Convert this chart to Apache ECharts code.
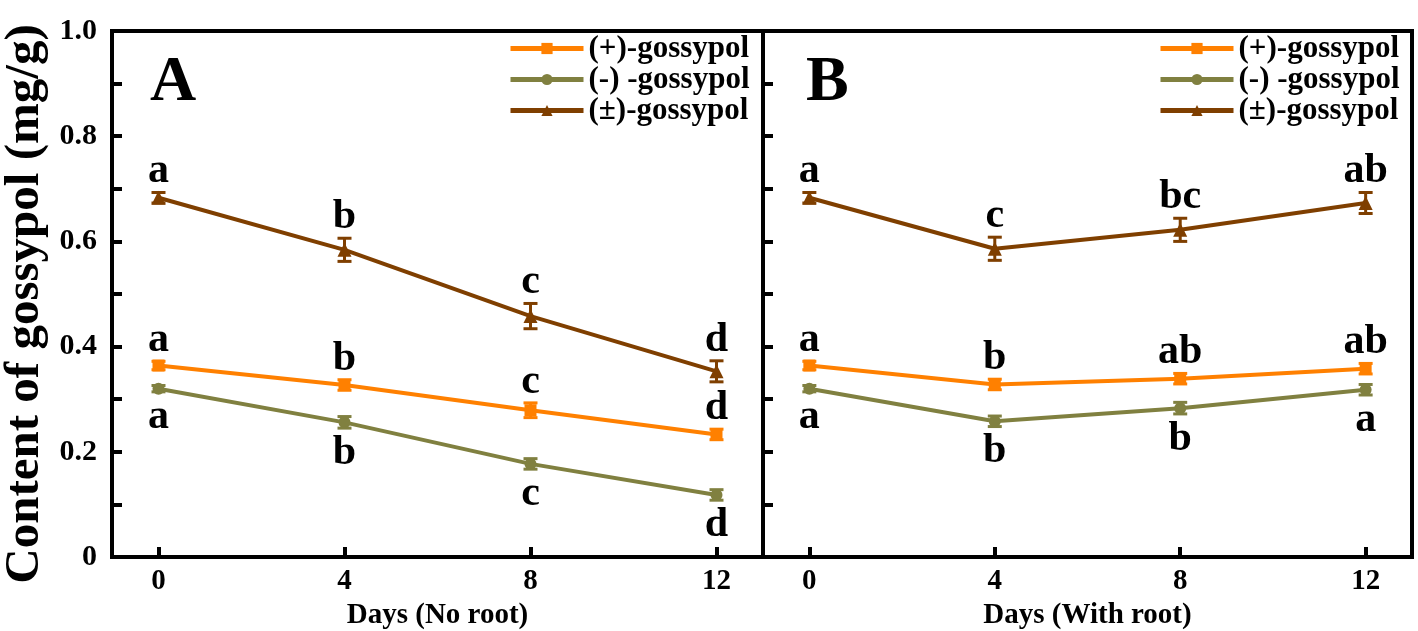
<!DOCTYPE html>
<html>
<head>
<meta charset="utf-8">
<script src="https://cdn.jsdelivr.net/npm/echarts@6/dist/echarts.min.js"></script>
<style>
html,body{margin:0;padding:0;background:#fff;}
#chart{width:1418px;height:631px;}
</style>
</head>
<body>
<div id="chart"></div>
<script>
// ---- data ----
const days = [0, 4, 8, 12];
const seriesNames = ['(+)-gossypol', '(-) -gossypol', '(±)-gossypol'];

// Panel A (No root)
const plusA = [0.364, 0.327, 0.279, 0.233];
const plusErrA = [0.008, 0.010, 0.014, 0.010];
const minusA = [0.320, 0.256, 0.177, 0.118];
const minusErrA = [0.006, 0.011, 0.010, 0.010];
const racA = [0.683, 0.584, 0.458, 0.353];
const racErrA = [0.010, 0.022, 0.024, 0.020];
const plusLetA = ['a', 'b', 'c', 'd'];
const minusLetA = ['a', 'b', 'c', 'd'];
const racLetA = ['a', 'b', 'c', 'd'];

// Panel B (With root)
const plusB = [0.364, 0.328, 0.339, 0.358];
const plusErrB = [0.008, 0.010, 0.010, 0.010];
const minusB = [0.320, 0.258, 0.283, 0.318];
const minusErrB = [0.006, 0.010, 0.011, 0.010];
const racB = [0.683, 0.586, 0.622, 0.673];
const racErrB = [0.010, 0.022, 0.022, 0.020];
const plusLetB = ['a', 'b', 'ab', 'ab'];
const minusLetB = ['a', 'b', 'b', 'a'];
const racLetB = ['a', 'c', 'bc', 'ab'];

const yTicks = [0, 0.2, 0.4, 0.6, 0.8, 1.0];
const xTitles = ['Days (No root)', 'Days (With root)'];
const yTitle = 'Content of gossypol (mg/g)';
const panelLetters = ['A', 'B'];

// ---- styles ----
const FONT = '"Liberation Serif", "Times New Roman", serif';
const colors = ['#FF8000', '#808040', '#7F3F00'];
const symbols = ['rect', 'circle', 'triangle'];

function pairs(vals) { return days.map((d, i) => [d, vals[i]]); }

function lineSeries(idx, vals, gi) {
  return {
    type: 'line', name: seriesNames[idx], xAxisIndex: gi, yAxisIndex: gi,
    data: pairs(vals), symbol: symbols[idx], symbolSize: idx === 2 ? 14 : 12,
    color: colors[idx],
    lineStyle: { width: 4, color: colors[idx] },
    itemStyle: { color: colors[idx] },
    z: 3, animation: false
  };
}
function errSeries(idx, vals, errs, gi) {
  return {
    type: 'custom', name: 'err' + idx + '_' + gi, xAxisIndex: gi, yAxisIndex: gi,
    data: days.map((d, i) => [d, vals[i] - errs[i], vals[i] + errs[i]]),
    renderItem: function (params, api) {
      const lo = api.coord([api.value(0), api.value(1)]);
      const hi = api.coord([api.value(0), api.value(2)]);
      const hw = 7;
      const st = { stroke: colors[idx], lineWidth: 3 };
      return { type: 'group', children: [
        { type: 'line', shape: { x1: lo[0], y1: lo[1], x2: hi[0], y2: hi[1] }, style: st },
        { type: 'line', shape: { x1: lo[0] - hw, y1: lo[1], x2: lo[0] + hw, y2: lo[1] }, style: st },
        { type: 'line', shape: { x1: hi[0] - hw, y1: hi[1], x2: hi[0] + hw, y2: hi[1] }, style: st }
      ]};
    },
    z: 4, animation: false, silent: true
  };
}
function letterSeries(vals, errs, letters, gi, below) {
  return {
    type: 'scatter', name: 'lbl_' + gi + (below ? 'b' : 't') + letters.join(''),
    xAxisIndex: gi, yAxisIndex: gi, symbolSize: 0,
    itemStyle: { opacity: 1, color: 'rgba(0,0,0,0)' },
    data: days.map((d, i) => ({ value: [d, below ? vals[i] - errs[i] : vals[i] + errs[i]], lt: letters[i] })),
    label: {
      show: true, position: below ? 'bottom' : 'top', distance: below ? 4 : 0,
      formatter: p => p.data.lt, opacity: 1,
      fontFamily: FONT, fontWeight: 'bold', fontSize: 42, color: '#000'
    },
    z: 5, animation: false, silent: true
  };
}

const gridTop = 31, gridBottom = 74;
const grids = [
  { left: 112, right: 1418 - 763, top: gridTop, bottom: gridBottom, show: true, borderColor: '#000', borderWidth: 4, outerBoundsMode: 'none', containLabel: false },
  { left: 763, right: 6, top: gridTop, bottom: gridBottom, show: true, borderColor: '#000', borderWidth: 4, outerBoundsMode: 'none', containLabel: false }
];

function xAx(gi) {
  return {
    type: 'value', gridIndex: gi, min: -1, max: 13,
    name: xTitles[gi], nameLocation: 'middle', nameGap: 35,
    nameTextStyle: { fontFamily: FONT, fontWeight: 'bold', fontSize: 29, color: '#000' },
    axisLine: { show: true, onZero: false, lineStyle: { color: '#000', width: 4 } },
    axisTick: { show: true, inside: true, length: 10, lineStyle: { width: 4, color: '#000' }, customValues: days },
    axisLabel: { show: true, customValues: days, margin: 10, fontFamily: FONT, fontWeight: 'bold', fontSize: 29, color: '#000' },
    splitLine: { show: false }
  };
}
function yAx(gi) {
  return {
    type: 'value', gridIndex: gi, min: 0, max: 1, interval: 0.2,
    name: gi === 0 ? yTitle : '', nameLocation: 'middle', nameGap: 62,
    nameTextStyle: { fontFamily: FONT, fontWeight: 'bold', fontSize: 49, color: '#000', padding: [0, 20, 0, 0] },
    axisLine: { show: true, onZero: false, lineStyle: { color: '#000', width: 4 } },
    axisTick: { show: true, inside: true, length: 10, lineStyle: { width: 4, color: '#000' } },
    minorTick: { show: true, splitNumber: 2, length: 10, lineStyle: { width: 4, color: '#000' } },
    axisLabel: {
      show: gi === 0, margin: 15, fontFamily: FONT, fontWeight: 'bold', fontSize: 30, color: '#000',
      formatter: v => (v === 0 ? '0' : v.toFixed(1))
    },
    splitLine: { show: false }
  };
}

const series = [];
[[plusA, plusErrA, minusA, minusErrA, racA, racErrA, plusLetA, minusLetA, racLetA],
 [plusB, plusErrB, minusB, minusErrB, racB, racErrB, plusLetB, minusLetB, racLetB]].forEach((p, gi) => {
  series.push(lineSeries(0, p[0], gi), lineSeries(1, p[2], gi), lineSeries(2, p[4], gi));
  series.push(errSeries(0, p[0], p[1], gi), errSeries(1, p[2], p[3], gi), errSeries(2, p[4], p[5], gi));
  series.push(letterSeries(p[0], p[1], p[6], gi, false));
  series.push(letterSeries(p[2], p[3], p[7], gi, true));
  series.push(letterSeries(p[4], p[5], p[8], gi, false));
});

function legendAt(left) {
  return {
    data: seriesNames, orient: 'vertical', left: left, top: 28,
    itemWidth: 73, itemHeight: 14, itemGap: 0,
    lineStyle: { width: 5 },
    textStyle: { fontFamily: FONT, fontWeight: 'bold', fontSize: 31, color: '#000' },
    selectedMode: false
  };
}

const chart = echarts.init(document.getElementById('chart'), null, { renderer: 'canvas' });
chart.setOption({
  animation: false,
  backgroundColor: '#fff',
  grid: grids,
  xAxis: [xAx(0), xAx(1)],
  yAxis: [yAx(0), yAx(1)],
  legend: [legendAt(503), legendAt(1153)],
  graphic: [
    { type: 'text', left: 150, top: 51, style: { text: panelLetters[0], font: 'bold 64px ' + FONT, fill: '#000' } },
    { type: 'text', left: 806, top: 51, style: { text: panelLetters[1], font: 'bold 64px ' + FONT, fill: '#000' } }
  ],
  series: series
});
</script>
</body>
</html>
